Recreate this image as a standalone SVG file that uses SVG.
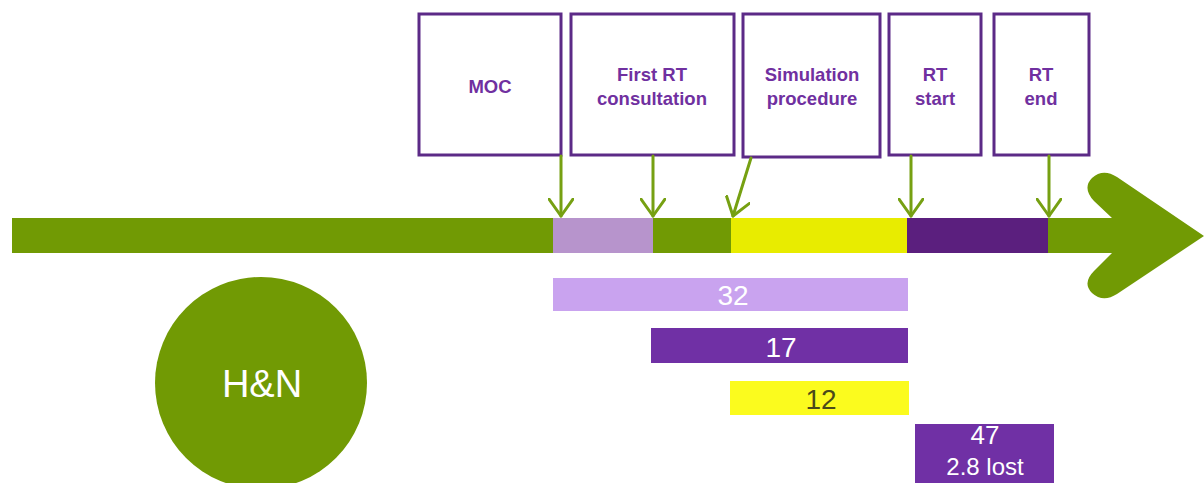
<svg xmlns="http://www.w3.org/2000/svg" width="1204" height="483" viewBox="0 0 1204 483">
  <style>
    .box { fill: #ffffff; stroke: #5c2a87; stroke-width: 3; }
    .lbl { font-family: "Liberation Sans", Arial, sans-serif; font-weight: bold; font-size: 18.5px; fill: #7030a0; text-anchor: middle; }
    .num { font-family: "Liberation Sans", Arial, sans-serif; font-size: 28px; fill: #ffffff; text-anchor: middle; }
    .conn { fill: none; stroke: #76a012; stroke-width: 3; stroke-linecap: round; }
    .green { fill: #719a04; }
  </style>
  <defs>
    <marker id="vhead" viewBox="0 0 20 26" refX="18" refY="13" markerWidth="20" markerHeight="26" markerUnits="userSpaceOnUse" orient="auto">
      <path d="M1,1 L18,13 L1,25" fill="none" stroke="#76a012" stroke-width="3" stroke-linecap="round" stroke-linejoin="round"/>
    </marker>
  </defs>

  <!-- timeline bar -->
  <g id="timeline">
    <rect class="green" x="12" y="218" width="1102" height="35"/>
    <path class="green" d="M1112,218 L1094,201 Q1082,188 1092,178 Q1103,168 1117,177 L1204,236 L1117,294 Q1103,303 1092,293 Q1082,283 1094,271 L1112,253 Z"/>
    <rect x="553" y="218" width="100" height="35" fill="#b794cc"/>
    <rect x="731" y="218" width="177" height="35" fill="#e8ec00"/>
    <rect x="907" y="218" width="141" height="35" fill="#5b1f7e"/>
  </g>

  <!-- milestones -->
  <g id="moc">
    <rect class="box" x="419" y="14" width="142" height="141"/>
    <text class="lbl" x="490" y="93">MOC</text>
  </g>
  <g id="first-rt">
    <rect class="box" x="571" y="14" width="163" height="141"/>
    <text class="lbl" x="652" y="81">First RT</text>
    <text class="lbl" x="652" y="105">consultation</text>
  </g>
  <g id="simulation">
    <rect class="box" x="743" y="14" width="137" height="143"/>
    <text class="lbl" x="812" y="81">Simulation</text>
    <text class="lbl" x="812" y="105">procedure</text>
  </g>
  <g id="rt-start">
    <rect class="box" x="889" y="14" width="92" height="141"/>
    <text class="lbl" x="935" y="81">RT</text>
    <text class="lbl" x="935" y="105">start</text>
  </g>
  <g id="rt-end">
    <rect class="box" x="994" y="14" width="95" height="141"/>
    <text class="lbl" x="1041" y="81">RT</text>
    <text class="lbl" x="1041" y="105">end</text>
  </g>

  <!-- milestone pointers -->
  <g id="connectors">
    <line class="conn" x1="561" y1="156" x2="561" y2="216" marker-end="url(#vhead)"/>
    <line class="conn" x1="653" y1="156" x2="653" y2="216" marker-end="url(#vhead)"/>
    <line class="conn" x1="751" y1="158" x2="733" y2="216" marker-end="url(#vhead)"/>
    <line class="conn" x1="911" y1="156" x2="911" y2="216" marker-end="url(#vhead)"/>
    <line class="conn" x1="1049" y1="156" x2="1049" y2="216" marker-end="url(#vhead)"/>
  </g>

  <!-- interval bars -->
  <g id="bar-32">
    <rect x="553" y="278" width="355" height="33" fill="#c9a3ef"/>
    <text class="num" x="733" y="305">32</text>
  </g>
  <g id="bar-17">
    <rect x="651" y="328" width="257" height="35" fill="#7030a5"/>
    <text class="num" x="781" y="357">17</text>
  </g>
  <g id="bar-12">
    <rect x="730" y="381" width="179" height="34" fill="#fbfb1e"/>
    <text class="num" x="821" y="409" style="fill:#4a4a1a">12</text>
  </g>
  <g id="bar-47">
    <rect x="915" y="424" width="139" height="70" fill="#7030a5"/>
    <text class="num" x="985" y="444" style="font-size:26px">47</text>
    <text class="num" x="985" y="475" style="font-size:24px">2.8 lost</text>
  </g>

  <!-- site marker -->
  <g id="hn">
    <circle cx="261" cy="383" r="106" fill="#719a04"/>
    <text x="262" y="397" font-family="Liberation Sans, Arial, sans-serif" font-size="38" fill="#ffffff" text-anchor="middle">H&amp;N</text>
  </g>
</svg>
